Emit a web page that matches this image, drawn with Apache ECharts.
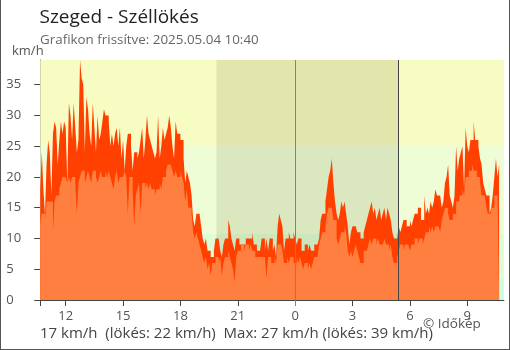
<!DOCTYPE html>
<html><head><meta charset="utf-8">
<script src="https://cdn.jsdelivr.net/npm/echarts@6/dist/echarts.min.js"></script>
<style>
html,body{margin:0;padding:0;background:#fff;}
#c{position:absolute;left:0;top:0;width:510px;height:350px;}
#f{position:absolute;left:0;top:0;width:510px;height:350px;box-sizing:border-box;border:1px solid #555;border-top:none;pointer-events:none;}
</style></head><body><div id="c"></div><div id="f"></div>
<script>
// time axis (hours, continuing past midnight as 24+)
const START_HOUR = 10 + 40/60;     // 10:40 previous day
const STEP_HOURS = 5/60;           // 5-minute readings
const AXIS_END = 34 + 55/60;       // 10:55
const HOUR_TICKS = [12, 15, 18, 21, 24, 27, 30, 33];
const Y_TICKS = [0, 5, 10, 15, 20, 25, 30, 35];
const MIDNIGHT = 24;
const SUNSET = 19 + 53/60;
const SUNRISE = 29 + 23/60;
const BANDS = [[0, 3.6], [3.6, 10.8], [10.8, 25.2], [25.2, 39]];

// gusts (km/h), every 5 minutes from 10:40
const GUST = [
 18,24,18,14,22,26,24,17,27,29, 28,22,26,29,27,29,28,19,32,30,
 26,32,28,24,26,39,36,35,24,33, 31,27,25,32,28,24,30,26,27,29,
 31,30,30,29,25,27,25,27,28,25, 28,
 23,26,21,25,27,27,25,21,24,24, 23,24,26,28,23,26,30,27,26,25,
 24,23,24,30,23,25,28,26,27,28, 30,28,25,23,29,27,27,26,26,23,
 19,21,20,19,17,13,12,14,14,14,
 12,10,9,10,8,8,7,7,8,10, 10,10,8,7,9,10,10,13,12,10,
 9,8,10,10,9,9,9,9,10,10, 10,10,11,9,9,8,8,8,10,10,
 8,10,8,10,10,8,9,7,12,14,
 13,12,8,10,10,11,10,10,11,10, 9,10,10,8,8,9,9,8,9,8,
 8,9,9,9,10,13,14,14,16,18, 20,21,23,19,16,14,13,14,16,15,
 16,14,12,9,11,12,12,12,11,11,
 10,10,11,12,13,14,15,16,14,15, 13,14,15,13,14,15,13,15,14,13,
 11,10,10,10,12,11,12,13,13,12, 12,13,12,13,14,14,15,15,13,13,
 17,14,15,14,16,15,16,18,17,17,
 17,15,16,19,20,22,17,16,15,17, 25,21,23,24,25,18,28,25,24,26,
 26,29,26,26,25,23,22,19,18,17, 17,14,15,17,20,23,20,22
];
// average wind (km/h), every 5 minutes from 10:40
const AVG = [
 12,14,14,13,16,16,16,16,11,16, 17,17,18,19,20,20,20,19,20,19,
 20,20,19,14,19,20,21,21,19,20, 21,20,19,21,21,20,19,20,21,20,
 20,21,20,21,20,19,18,20,21,19, 20,
 20,20,21,20,14,20,20,18,12,17, 18,19,14,19,19,18,19,18,19,18,
 18,17,18,18,19,18,20,20,21,22, 22,22,21,20,21,20,20,21,20,19,
 16,18,15,15,14,11,10,11,10,9,
 8,7,6,7,5,6,4,6,6,7, 7,6,7,4,6,7,7,8,7,6,
 5,3,7,8,8,9,9,8,9,9, 8,9,8,8,7,7,7,7,7,7,
 7,3.5,7,7,6,6,7,6,9,9,
 9,8,6,6,7,6,7,7,6,6, 7,6,7,6,5,6,6,5,6,5,
 6,7,7,7,9,10,11,11,12,14, 15,15,15,13,13,10,9,10,11,11,
 12,11,8,7,8,7,8,9,8,7,
 6,6,8,8,8,9,10,9,10,10, 9,10,9,9,9,10,9,9,8,9,
 7,6,6,7,8,9,9,8,9,9, 9,8,9,9,10,10,9,10,10,9,
 10,11,11,12,11,12,11,12,12,12,
 11,13,14,15,15,14,13,13,14,14, 16,16,17,17,18,17,20,20,21,21,
 22,21,21,20,20,19,17,17,17,15, 14,14,15,15,17,17,17,17
];

const FONT = '"Open Sans", "Noto Sans", sans-serif';
const toPairs = arr => arr.map((v, i) => [START_HOUR + i * STEP_HOURS, v]);

const chart = echarts.init(document.getElementById('c'), null, {renderer: 'canvas'});
const bandColors = ['#cbfee0', '#dcfdd6', '#effdd6', '#f7fcc2'];

chart.setOption({
  animation: false,
  textStyle: {fontFamily: FONT},
  grid: {left: 40.2, right: 6.1, top: 60, bottom: 50, containLabel: false},
  xAxis: [{
    type: 'value', min: START_HOUR, max: AXIS_END,
    axisLine: {lineStyle: {color: '#444', width: 1}},
    axisTick: {customValues: [START_HOUR].concat(HOUR_TICKS), length: 6, lineStyle: {color: '#444'}},
    axisLabel: {customValues: HOUR_TICKS, formatter: v => String(Math.round(v) % 24), color: '#555', fontSize: 13, margin: 10, fontFamily: FONT},
    splitLine: {show: false}
  }, {
    type: 'value', min: START_HOUR, max: AXIS_END, position: 'bottom',
    axisLine: {show: false},
    axisTick: {customValues: [MIDNIGHT], length: 6, lineStyle: {color: '#3a96d4'}},
    axisLabel: {show: false},
    splitLine: {show: false}
  }],
  yAxis: [{
    type: 'value', min: 0, max: 39,
    axisLine: {show: true, lineStyle: {color: '#444'}},
    axisTick: {show: true, customValues: Y_TICKS, length: 6, lineStyle: {color: '#444'}},
    axisLabel: {customValues: Y_TICKS, align: 'left', margin: 34, color: '#555', fontSize: 13, fontFamily: FONT},
    splitLine: {show: false}
  }, {
    type: 'value', min: 0, max: 39, position: 'left',
    axisLine: {show: false},
    axisTick: {show: true, inside: true, customValues: Y_TICKS, length: 6, lineStyle: {color: '#444'}},
    axisLabel: {show: false},
    splitLine: {show: false}
  }],
  series: [
    {type: 'line', data: [], z: 1, silent: true,
     markArea: {silent: true, label: {show: false},
       data: BANDS.map((b, i) => [{yAxis: b[0], itemStyle: {color: bandColors[i]}}, {yAxis: b[1]}])}},
    {type: 'line', data: [], z: 1, silent: true,
     markArea: {silent: true, label: {show: false}, itemStyle: {color: 'rgba(70,70,20,0.12)'},
       data: [[{xAxis: SUNSET}, {xAxis: SUNRISE}]]}},
    {type: 'line', data: [], z: 2, silent: true,
     markLine: {silent: true, symbol: 'none', label: {show: false}, animation: false,
       data: [{xAxis: MIDNIGHT, lineStyle: {color: '#3a96d4', width: 1, type: 'solid'}},
              {xAxis: SUNRISE, lineStyle: {color: '#444', width: 1, type: 'solid'}}]}},
    {name: 'gust', type: 'line', data: toPairs(GUST), step: 'end', symbol: 'none', z: 3,
     lineStyle: {width: 0}, areaStyle: {color: '#ff4000', opacity: 1}},
    {name: 'avg', type: 'line', data: toPairs(AVG), step: 'end', symbol: 'none', z: 4,
     lineStyle: {width: 0}, areaStyle: {color: '#ff7f40', opacity: 1}}
  ],
  graphic: [
    {type: 'text', x: 39.5, y: 18, style: {text: 'Szeged - Széllökés', font: '19px ' + FONT, fill: '#222', verticalAlign: 'middle'}},
    {type: 'text', x: 40, y: 40, style: {text: 'Grafikon frissítve: 2025.05.04 10:40', font: '13.4px ' + FONT, fill: '#666', verticalAlign: 'middle'}},
    {type: 'text', x: 12, y: 51, style: {text: 'km/h', font: '13px ' + FONT, fill: '#555', verticalAlign: 'middle'}},
    {type: 'text', x: 40, y: 334, style: {text: '17 km/h  (lökés: 22 km/h)  Max: 27 km/h (lökés: 39 km/h)', font: '15px ' + FONT, fill: '#444', verticalAlign: 'middle'}},
    {type: 'text', x: 423, y: 324, style: {text: '© Időkép', font: '13.5px ' + FONT, fill: '#555', verticalAlign: 'middle'}}
  ]
});
</script></body></html>
